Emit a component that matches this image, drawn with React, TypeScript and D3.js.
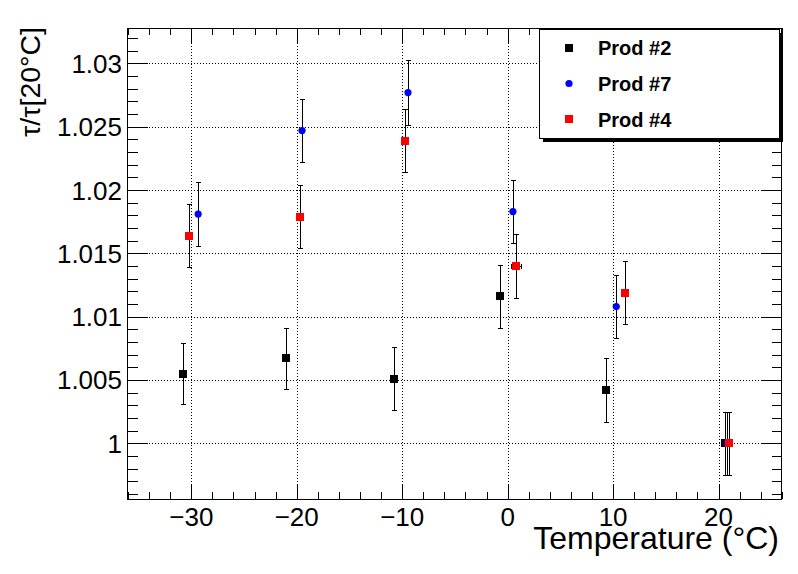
import React from "react";
import * as d3 from "d3";

// ---- data ----
const seriesNames = ["Prod #2", "Prod #7", "Prod #4"];
const seriesColors = ["#000000", "#0000ff", "#ff0000"];
const seriesShapes = ["square", "circle", "square"];

const temps2 = [-30.8, -21.05, -10.8, -0.75, 9.3, 20.6];
const vals2 = [1.0055, 1.0067, 1.0051, 1.0116, 1.0042, 1.0];
const errs2 = [0.0024, 0.0024, 0.0025, 0.0025, 0.0025, 0.0025];
const xerrs2 = [0, 0, 0, 0, 0, 0];

const temps7 = [-29.35, -19.5, -9.45, 0.5, 10.3, 20.8];
const vals7 = [1.0181, 1.0247, 1.0277, 1.0183, 1.0108, 1.0];
const errs7 = [0.0025, 0.0025, 0.0026, 0.0025, 0.0025, 0.0025];
const xerrs7 = [0, 0, 0, 0, 0, 0];

const temps4 = [-30.2, -19.65, -9.7, 0.8, 11.1, 21.0];
const vals4 = [1.0164, 1.0179, 1.0239, 1.014, 1.0119, 1.0];
const errs4 = [0.0025, 0.0025, 0.0025, 0.0025, 0.0025, 0.0025];
const xerrs4 = [0, 0, 0, 0.5, 0, 0];

const xTickValues = [-30, -20, -10, 0, 10, 20];
const xTickLabels = ["\u221230", "\u221220", "\u221210", "0", "10", "20"];
const yTickValues = [1.0, 1.005, 1.01, 1.015, 1.02, 1.025, 1.03];
const yTickLabels = ["1", "1.005", "1.01", "1.015", "1.02", "1.025", "1.03"];

const xTitle = "Temperature (\u00b0C)";
const yTitle = "\u03c4/\u03c4[20\u00b0C]";

const W = 798;
const H = 574;
const L = 127.5, R = 781.5, T = 28, B = 499;

export default function App() {
  const x = d3.scaleLinear().domain([-36.05, 25.97]).range([L, R]);
  const y = d3.scaleLinear().domain([0.9956, 1.0328]).range([B, T]);

  const xMinor = d3.range(-36, 26.01, 2);
  const yMinor = d3.range(996, 1032.5, 1).map((v) => v / 1000);

  const series = [
    { t: temps2, v: vals2, e: errs2, xe: xerrs2 },
    { t: temps7, v: vals7, e: errs7, xe: xerrs7 },
    { t: temps4, v: vals4, e: errs4, xe: xerrs4 },
  ];

  const font = "'Liberation Sans', Arial, Helvetica, sans-serif";
  const cap = 2.5;
  const px = (v: number) => Math.round(v) + 0.5;

  const marker = (shape: string, cx: number, cy: number, color: string, key: string) =>
    shape === "circle" ? (
      <circle key={key} cx={cx} cy={cy} r={3.6} fill={color} />
    ) : (
      <rect key={key} x={Math.round(cx) - 4} y={Math.round(cy) - 4} width={8} height={8} fill={color} />
    );

  return (
    <svg
      width={W}
      height={H}
      style={{ position: "fixed", left: 0, top: 0, background: "#fff" }}
      fontFamily={font}
    >
      <rect x={0} y={0} width={W} height={H} fill="#fff" />
      {/* grid */}
      <g stroke="#000" strokeWidth={1} strokeDasharray="1,2" shapeRendering="crispEdges">
        {xTickValues.map((v) => (
          <line key={"gx" + v} x1={px(x(v))} x2={px(x(v))} y1={T} y2={B} />
        ))}
        {yTickValues.map((v) => (
          <line key={"gy" + v} x1={L} x2={R} y1={px(y(v))} y2={px(y(v))} />
        ))}
      </g>
      {/* ticks */}
      <g stroke="#000" strokeWidth={1} shapeRendering="crispEdges">
        {xMinor.map((v) => {
          const p = px(x(v));
          return (
            <g key={"xm" + v}>
              <line x1={p} x2={p} y1={B} y2={B - 7} />
              <line x1={p} x2={p} y1={T} y2={T + 7} />
            </g>
          );
        })}
        {xTickValues.map((v) => {
          const p = px(x(v));
          return (
            <g key={"xM" + v}>
              <line x1={p} x2={p} y1={B} y2={B - 15} />
              <line x1={p} x2={p} y1={T} y2={T + 15} />
            </g>
          );
        })}
        {yMinor.map((v) => {
          const p = px(y(v));
          if (p < T || p > B) return null;
          return (
            <g key={"ym" + v}>
              <line x1={L} x2={L + 10} y1={p} y2={p} />
              <line x1={R} x2={R - 10} y1={p} y2={p} />
            </g>
          );
        })}
        {yTickValues.map((v) => {
          const p = px(y(v));
          return (
            <g key={"yM" + v}>
              <line x1={L} x2={L + 20} y1={p} y2={p} />
              <line x1={R} x2={R - 20} y1={p} y2={p} />
            </g>
          );
        })}
      </g>
      {/* frame */}
      <rect x={L} y={T} width={R - L} height={B - T} fill="none" stroke="#000" strokeWidth={1} shapeRendering="crispEdges" />
      {/* tick labels */}
      <g fontSize={26} fill="#000">
        {xTickValues.map((v, i) => (
          <text key={"xl" + v} x={x(v)} y={526} textAnchor="middle">
            {xTickLabels[i]}
          </text>
        ))}
        {yTickValues.map((v, i) => (
          <text key={"yl" + v} x={122} y={y(v) + 9.5} textAnchor="end">
            {yTickLabels[i]}
          </text>
        ))}
      </g>
      {/* titles */}
      <text x={779} y={549} fontSize={32} textAnchor="end" fill="#000">
        {xTitle}
      </text>
      <text
        transform={`translate(40,27) rotate(-90)`}
        fontSize={28.5}
        textAnchor="end"
        fill="#000"
      >
        {yTitle}
      </text>
      {/* data */}
      {series.map((s, si) => (
        <g key={"s" + si}>
          {s.t.map((t, i) => {
            const cx = px(x(t));
            const cy = px(y(s.v[i]));
            const y1 = Math.round(y(s.v[i] + s.e[i])) + 0.5;
            const y2 = Math.round(y(s.v[i] - s.e[i])) + 0.5;
            const xe = s.xe[i];
            return (
              <g key={"p" + si + "-" + i} stroke="#000" strokeWidth={1} shapeRendering="crispEdges">
                <line x1={cx} x2={cx} y1={y1} y2={y2} />
                <line x1={cx - cap} x2={cx + cap} y1={y1} y2={y1} />
                <line x1={cx - cap} x2={cx + cap} y1={y2} y2={y2} />
                {xe > 0 && (
                  <g>
                    <line x1={px(x(t - xe))} x2={px(x(t + xe))} y1={cy} y2={cy} />
                    <line x1={px(x(t - xe))} x2={px(x(t - xe))} y1={cy - cap} y2={cy + cap} />
                    <line x1={px(x(t + xe))} x2={px(x(t + xe))} y1={cy - cap} y2={cy + cap} />
                  </g>
                )}
              </g>
            );
          })}
          {s.t.map((t, i) =>
            marker(seriesShapes[si], x(t), y(s.v[i]), seriesColors[si], "m" + si + "-" + i)
          )}
        </g>
      ))}
      {/* legend */}
      <rect x={543} y={33} width={240} height={109} fill="#000" />
      <rect x={539.5} y={29.5} width={240} height={109} fill="#fff" stroke="#000" strokeWidth={1} shapeRendering="crispEdges" />
      {seriesNames.map((n, i) => {
        const cy = 47.7 + i * 35.8;
        return (
          <g key={"lg" + i}>
            {marker(seriesShapes[i], 569, cy, seriesColors[i], "lm" + i)}
            <text x={598} y={cy + 7.3} fontSize={20} fontWeight="bold" fill="#000">
              {n}
            </text>
          </g>
        );
      })}
    </svg>
  );
}
